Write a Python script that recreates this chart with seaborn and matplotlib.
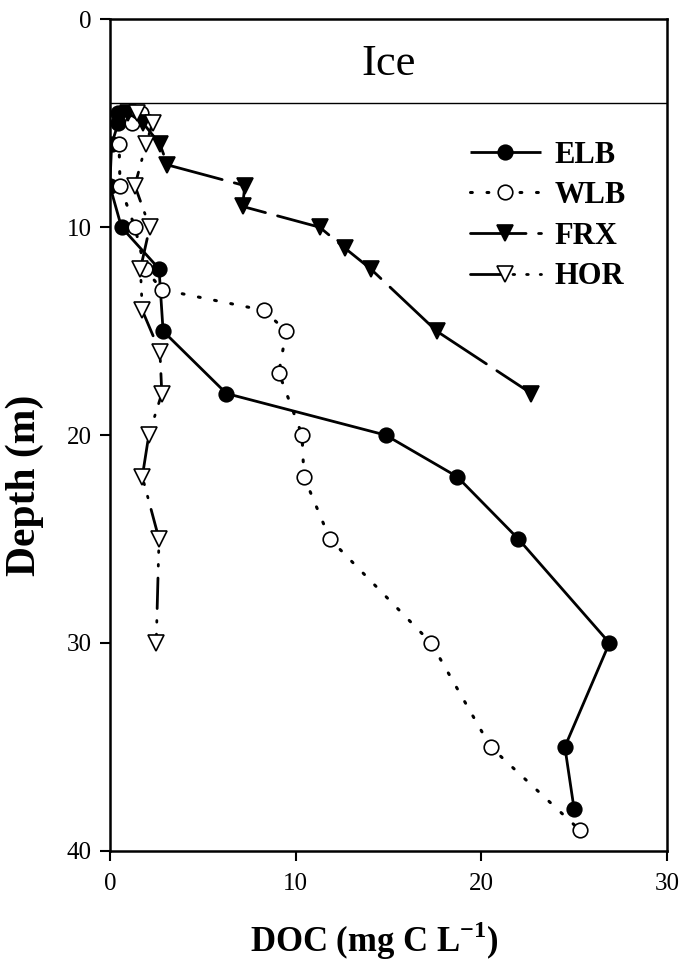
import matplotlib
matplotlib.use("Agg")
import matplotlib.pyplot as plt
import seaborn as sns
import pandas as pd

# ---- data ----
elb_depth = [4.5, 5, 6, 8, 10, 12, 15, 18, 20, 22, 25, 30, 35, 38]
elb_doc = [0.45, 0.45, 0.1, 0.0, 0.63, 2.65, 2.87, 6.28, 14.85, 18.7, 22.0, 26.9, 24.5, 25.0]

wlb_depth = [4.5, 5, 6, 8, 10, 12, 13, 14, 15, 17, 20, 22, 25, 30, 35, 39]
wlb_doc = [1.7, 1.2, 0.5, 0.55, 1.35, 1.9, 2.8, 8.3, 9.5, 9.1, 10.35, 10.45, 11.85, 17.3, 20.5, 25.3]

frx_depth = [4.5, 5, 6, 7, 8, 9, 10, 11, 12, 15, 18]
frx_doc = [1.0, 1.8, 2.7, 3.1, 7.27, 7.15, 11.3, 12.65, 14.04, 17.6, 22.7]

hor_depth = [4.5, 5, 6, 8, 10, 12, 14, 16, 18, 20, 22, 25, 30]
hor_doc = [1.45, 2.3, 1.95, 1.35, 2.15, 1.65, 1.75, 2.7, 2.8, 2.1, 1.75, 2.65, 2.5]

ice_depth = 4
x_ticks = [0, 10, 20, 30]
y_ticks = [0, 10, 20, 30, 40]

sns.set_theme(style="ticks")
plt.rcParams["font.family"] = ["Liberation Serif", "DejaVu Serif"]
plt.rcParams["text.color"] = "black"
plt.rcParams["axes.labelcolor"] = "black"
plt.rcParams["mathtext.fontset"] = "custom"
plt.rcParams["mathtext.rm"] = "Liberation Serif"
plt.rcParams["mathtext.bf"] = "Liberation Serif:bold"

fig = plt.figure(figsize=(6.82, 9.69), dpi=100)
ax = fig.add_axes([0.161, 0.122, 0.817, 0.858])

series = [
    ("ELB", elb_doc, elb_depth, dict(marker="o", linestyle="-", markerfacecolor="black")),
    ("WLB", wlb_doc, wlb_depth, dict(marker="o", linestyle=(0, (0.6, 4.8)), markerfacecolor="white")),
    ("FRX", frx_doc, frx_depth, dict(marker="v", linestyle=(0, (20, 4.5)), markerfacecolor="black")),
    ("HOR", hor_doc, hor_depth, dict(marker="v", linestyle=(0, (11, 4.3, 0.6, 4.3, 0.6, 4.3)), markerfacecolor="white")),
]

for name, xs, ys, st in series:
    df = pd.DataFrame({"DOC": xs, "Depth": ys})
    ms = 10.5 if st["marker"] == "o" else 11.5
    lw = 2.0 if name != "WLB" else 2.2
    sns.lineplot(data=df, x="DOC", y="Depth", sort=False, estimator=None,
                 color="black", linewidth=lw, marker=st["marker"],
                 linestyle=st["linestyle"], markersize=ms,
                 markerfacecolor=st["markerfacecolor"], markeredgecolor="black",
                 markeredgewidth=1.2, label=name, ax=ax,
                 dash_capstyle="round", solid_capstyle="butt")

ax.axhline(ice_depth, color="black", linewidth=1.0, zorder=1)
ax.text(15, ice_depth / 2 + 0.15, "Ice", ha="center", va="center", fontsize=32, color="black")

ax.set_xlim(0, 30)
ax.set_ylim(40, 0)
ax.set_xticks(x_ticks)
ax.set_yticks(y_ticks)
ax.tick_params(axis="both", direction="out", length=7, width=1.5,
               labelsize=18, colors="black", pad=6)
ax.tick_params(axis="x", pad=9)
for sp in ax.spines.values():
    sp.set_visible(True)
    sp.set_linewidth(1.8)
    sp.set_color("black")

ax.set_xlabel("DOC (mg C L$^{\\mathbf{-1}}$)", fontsize=25, fontweight="bold")
ax.set_ylabel("Depth (m)", fontsize=30, fontweight="bold")
ax.xaxis.set_label_coords(0.474, -0.082)
ax.yaxis.set_label_coords(-0.118, 0.44)

leg = ax.legend(loc="upper left", bbox_to_anchor=(0.625, 0.869), frameon=False,
                prop={"size": 22, "weight": "bold"}, handlelength=2.3,
                labelspacing=0.38, handletextpad=0.45, borderaxespad=0)
for t in leg.get_texts():
    t.set_color("black")

fig.savefig("out.png", dpi=100)
